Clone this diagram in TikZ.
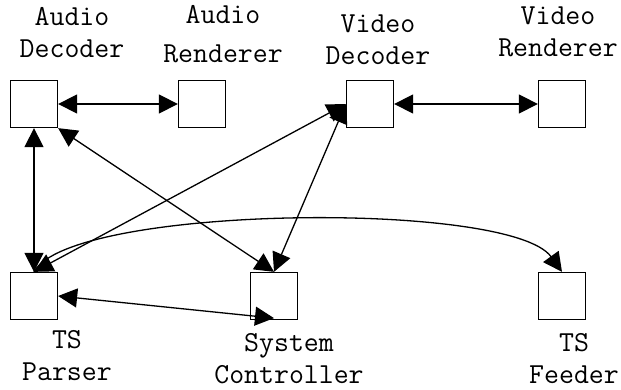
\documentclass[tikz,border=0pt]{standalone}
\usepackage{fontspec}
\usetikzlibrary{arrows.meta}

\begin{document}
\begin{tikzpicture}[x=1pt, y=1pt, node distance=192pt, >={Triangle[length=19pt, width=19pt]},
  box/.style={draw=black, line width=1.3pt, minimum size=47pt, inner sep=0pt},
  lbl/.style={font=\ttfamily\fontsize{29}{32}\selectfont, align=center, inner sep=0pt},
  every path/.style={line width=1.3pt}]
\useasboundingbox (0,0) rectangle (621,390);

% components
\node[box] (adec) at (34,286) {};
\node[box] (arend) [right of=adec, xshift=-24pt] {};
\node[box] (vdec) [right of=arend, xshift=-24pt] {};
\node[box] (vrend) [right of=vdec] {};
\node[box] (tsparse) [below of=adec] {};
\node[box] (sysctl) [right of=tsparse, xshift=48pt] {};
\node[box] (tsfeed) [below of=vrend] {};

% names
\node[lbl] (adeclbl) at (72,357) {Audio\\Decoder};
\node[lbl] (arendlbl) at (223,356) {Audio\\[7pt]Renderer};
\node[lbl] (vdeclbl) at (378,350) {Video\\Decoder};
\node[lbl] (vrendlbl) at (558,358) {Video\\Renderer};
\node[lbl] (tsparselbl) at (67,34) {TS\\Parser};
\node[lbl] (sysctllbl) at (289,31) {System\\Controller};
\node[lbl] (tsfeedlbl) at (574,31) {TS\\Feeder};

% links
\draw [<->] (adec) -- (arend);
\draw [<->] (vdec) -- (vrend);
\draw [<->] (adec) -- (tsparse);
\draw [<->] (adec.south east) -- (sysctl.north);
\draw [<->] (vdec.west) -- (sysctl.north);
\draw [<->] (tsparse.north) -- (vdec.west);
\draw [<->] (tsparse.east) -- ([yshift=2pt]sysctl.south);
\draw [->] (tsparse.north) .. controls (70,185) and (510,190) .. (tsfeed.north);

\end{tikzpicture}
\end{document}
